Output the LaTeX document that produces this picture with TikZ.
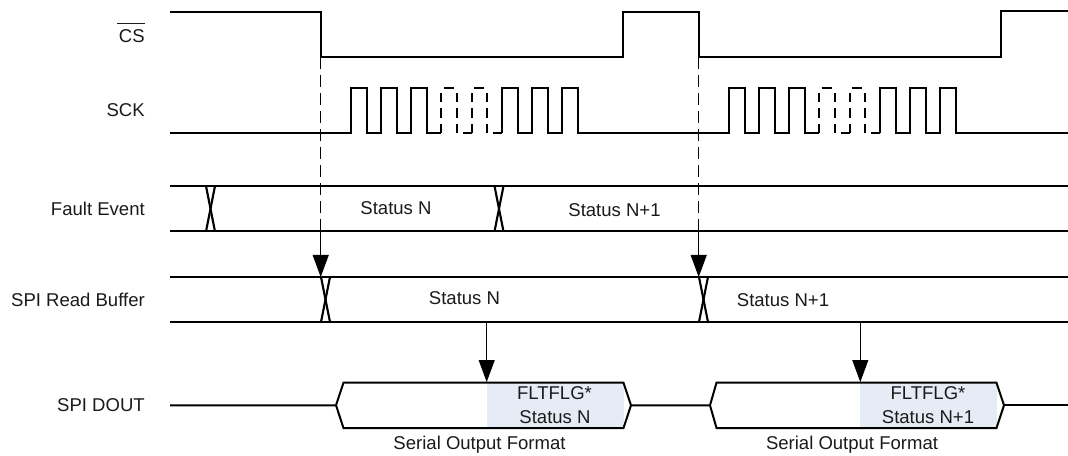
\documentclass[tikz,border=0pt]{standalone}
\usepackage{fontspec}
\setmainfont{Liberation Sans}
\usetikzlibrary{arrows.meta}
\definecolor{fmtblue}{HTML}{E6ECF6}
\definecolor{ink}{HTML}{1A1A1A}
\tikzset{
  wave/.style={draw=black,line width=1.5pt,line join=miter},
  thin wave/.style={draw=black,line width=1.6pt},
  pulsedash/.style={draw=black,line width=1.5pt,dash pattern=on 7.1pt off 4.5pt},
  guide/.style={draw=black,line width=0.75pt,dash pattern=on 8.5pt off 5pt},
  pointer/.style={draw=black,line width=0.75pt,-{Triangle[width=12pt,length=16.5pt]},shorten >=0pt},
  lbl/.style={text=ink,font=\fontsize{13.9}{16}\selectfont,inner sep=0pt},
  side/.style={lbl,anchor=east},
  overbar/.style={draw=ink,line width=0.75pt}
}
\newcommand{\dashpulses}[1]{%
  \foreach \d in {0,16,31,46}{
    \draw[pulsedash] (#1+\d,133) -- (#1+\d,92.5);
  }
  \draw[thin wave] (#1+2.5,88) -- (#1+12.5,88);
  \draw[thin wave] (#1+33,88) -- (#1+43,88);
  \draw[thin wave] (#1+22,133) -- (#1+31,133);
  \draw[thin wave] (#1+52,133) -- (#1+61,133);
}
\newcommand{\cross}[3]{%
  \draw[thin wave] (#1,#2) -- (#1+9,#3);
  \draw[thin wave] (#1+9,#2) -- (#1,#3);
}
\begin{document}
\begin{tikzpicture}[x=0.75pt,y=-0.75pt]
\useasboundingbox (0,0) rectangle (1068,456);
\fill[white] (0,0) rectangle (1068,456);

\node[side] (lcs) at (145,36) {CS};
\draw[overbar] (117,23.7) -- (145,23.7);
\node[side] (lsck) at (145,110) {SCK};
\node[side] (lfault) at (145,208.5) {Fault Event};
\node[side] (lbuf) at (145,299.5) {SPI Read Buffer};
\node[side] (ldout) at (145,405) {SPI DOUT};

\draw[wave] (170,12) -- (320.7,12) -- (320.7,57.5) -- (622.5,57.5) -- (622.5,12) -- (698.7,12) -- (698.7,57.5) -- (1001,57.5) -- (1001,11.5) -- (1068,11.5);

\draw[wave] (170,133) -- (350.7,133) -- (350.7,88) -- (366.7,88) -- (366.7,133) -- (380.7,133) -- (380.7,88) -- (397,88) -- (397,133) -- (410.7,133) -- (410.7,88) -- (427,88) -- (427,133) -- (441,133);
\dashpulses{441}
\draw[wave] (502,133) -- (502,88) -- (518,88) -- (518,133) -- (532,133) -- (532,88) -- (548,88) -- (548,133) -- (562,133) -- (562,88) -- (578,88) -- (578,133) -- (729,133) -- (729,88) -- (744.5,88) -- (744.5,133) -- (759,133) -- (759,88) -- (775,88) -- (775,133) -- (789,133) -- (789,88) -- (805,88) -- (805,133) -- (819,133);
\dashpulses{819}
\draw[wave] (880,133) -- (880,88) -- (896,88) -- (896,133) -- (910,133) -- (910,88) -- (926,88) -- (926,133) -- (940,133) -- (940,88) -- (956,88) -- (956,133) -- (1068,133);

\draw[wave] (170,186) -- (1068,186);
\draw[wave] (170,231.5) -- (1068,231.5);
\cross{206}{186}{231.5}
\cross{494.5}{186}{231.5}
\node[lbl] (fn) at (396,208.5) {Status N};
\node[lbl] (fn1) at (614.5,210.5) {Status N+1};

\draw[wave] (170,277) -- (1068,277);
\draw[wave] (170,322) -- (1068,322);
\cross{321}{277}{322}
\cross{699}{277}{322}
\node[lbl] (bn) at (464.5,298.5) {Status N};
\node[lbl] (bn1) at (783,300.5) {Status N+1};

\fill[fmtblue] (487,382.7) rectangle (624,428);
\fill[fmtblue] (860.3,382.7) rectangle (997,428);
\draw[wave] (170,405.3) -- (336,405.3) -- (343.5,382.7) -- (623.5,382.7) -- (631,405.3) -- (623.5,428) -- (343.5,428) -- (336,405.3);
\draw[wave] (631,405.3) -- (710,405.3) -- (716.5,382.7) -- (996.5,382.7) -- (1004,405.3) -- (996.5,428) -- (716.5,428) -- (710,405.3);
\draw[wave] (1004,405.3) -- (1068,405.3);
\node[lbl] (f1) at (554.5,393.5) {FLTFLG*};
\node[lbl] (s1) at (555,417) {Status N};
\node[lbl] (f2) at (928,393.5) {FLTFLG*};
\node[lbl] (s2) at (928,417) {Status N+1};
\node[lbl] (c1) at (479.5,445) {Serial Output Format};
\node[lbl] (c2) at (852,445) {Serial Output Format};

\coordinate (a0) at (320.7,57.5);
\coordinate (a1) at (320.7,231.5);
\coordinate (a2) at (320.7,277);
\coordinate (b0) at (698.7,57.5);
\coordinate (b1) at (698.7,231.5);
\coordinate (b2) at (698.7,277);
\coordinate (c0) at (486.7,322);
\coordinate (c3) at (486.7,382);
\coordinate (d0) at (860.3,322);
\coordinate (d3) at (860.3,382);
\draw[guide] (a0) -- (a1);
\draw[guide] (b0) -- (b1);
\draw[pointer] (a1) -- (a2);
\draw[pointer] (b1) -- (b2);
\draw[pointer] (c0) -- (c3);
\draw[pointer] (d0) -- (d3);
\end{tikzpicture}
\end{document}
